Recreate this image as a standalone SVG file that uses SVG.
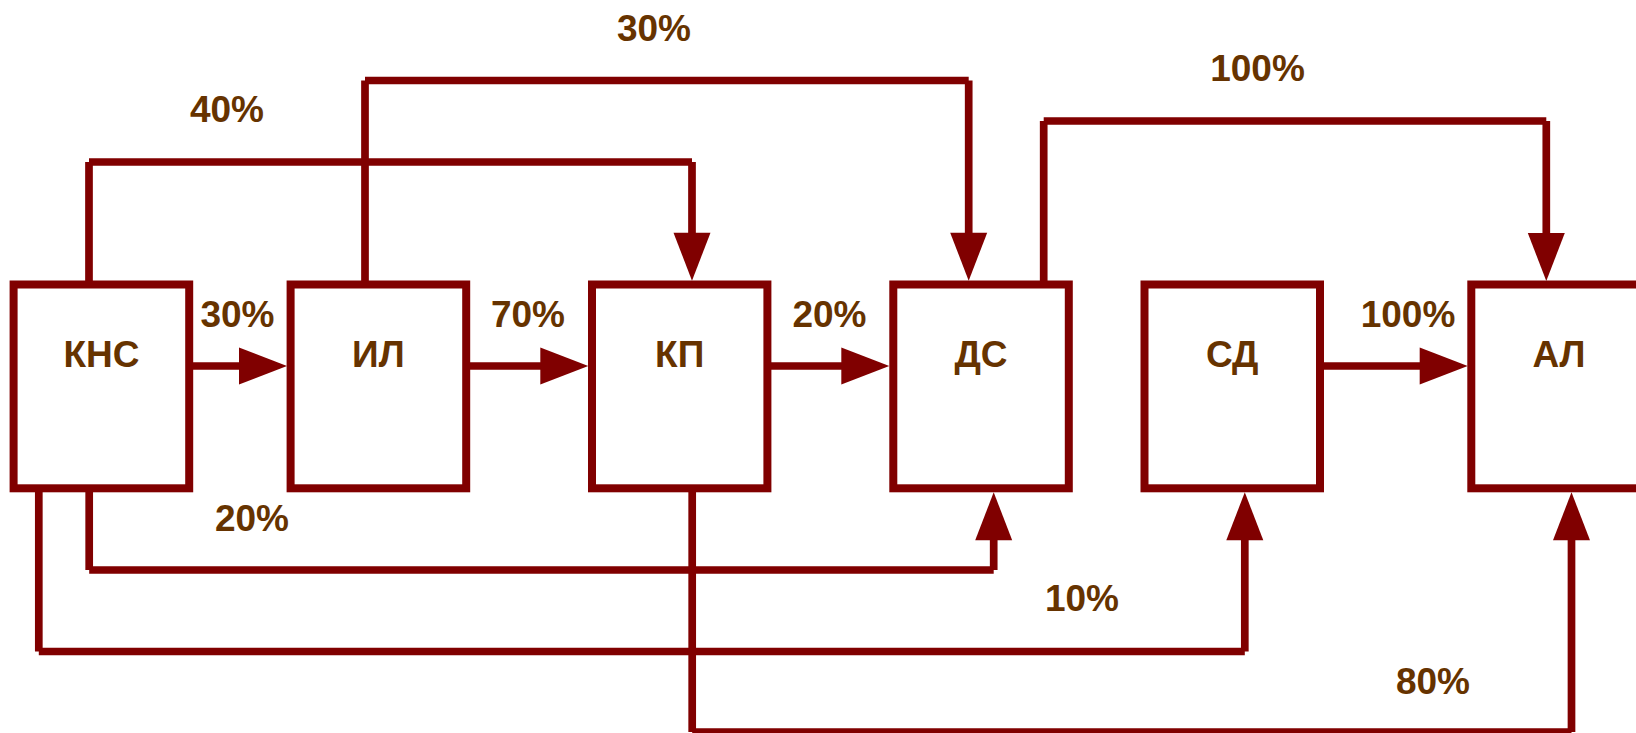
<svg xmlns="http://www.w3.org/2000/svg" width="1636" height="733" viewBox="0 0 1636 733">
  <style>
    .box { fill: #ffffff; stroke: #800000; stroke-width: 8; }
    .flow { fill: none; stroke: #800000; stroke-width: 7.7; stroke-linecap: butt; marker-end: url(#head); }
    .name, .pct { font-family: "Liberation Sans", Arial, sans-serif; font-weight: bold; font-size: 37px; fill: #663300; text-anchor: middle; }
  </style>
  <defs>
    <marker id="head" markerUnits="userSpaceOnUse" markerWidth="48" markerHeight="37" refX="4" refY="18.5" orient="auto" overflow="visible">
      <path d="M0,0 L48,18.5 L0,37 z" fill="#800000"/>
    </marker>
  </defs>
  <rect width="1636" height="733" fill="#ffffff"/>

  <!-- flows between stages -->
  <g id="connectors">
    <path class="flow" d="M189,366 H243"/>
    <path class="flow" d="M466,366 H544.3"/>
    <path class="flow" d="M767,366 H845.3"/>
    <path class="flow" d="M1320,366 H1423.7"/>
    <path class="flow" d="M89,284.5 V162 M89,162 H692 M692,162 V236.7"/>
    <path class="flow" d="M365,284.5 V80.5 M365,80.5 H968.7 M968.7,80.5 V236.7"/>
    <path class="flow" d="M1043.7,284.5 V121 M1043.7,121 H1546.3 M1546.3,121 V237"/>
    <path class="flow" d="M89.2,488.3 V570 M89.2,570 H993.7 M993.7,570 V536.3"/>
    <path class="flow" d="M38.8,488.3 V651.5 M38.8,651.5 H1244.8 M1244.8,651.5 V536.3"/>
    <path class="flow" d="M692.2,488.3 V732 M692.2,732 H1571.5 M1571.5,732 V536.3"/>
  </g>

  <!-- share labels -->
  <g id="labels">
    <text class="pct" x="237.5" y="327">30%</text>
    <text class="pct" x="528" y="327">70%</text>
    <text class="pct" x="829.5" y="327">20%</text>
    <text class="pct" x="1408" y="327">100%</text>
    <text class="pct" x="227" y="122">40%</text>
    <text class="pct" x="654" y="41">30%</text>
    <text class="pct" x="1257.5" y="81">100%</text>
    <text class="pct" x="252" y="531">20%</text>
    <text class="pct" x="1082" y="611">10%</text>
    <text class="pct" x="1433" y="694">80%</text>
  </g>

  <!-- stages -->
  <g id="node-kns">
    <rect class="box" x="13.6" y="284.5" width="175.6" height="203.8"/>
    <text class="name" x="101.4" y="367">КНС</text>
  </g>
  <g id="node-il">
    <rect class="box" x="290.6" y="284.5" width="175.6" height="203.8"/>
    <text class="name" x="378.4" y="367">ИЛ</text>
  </g>
  <g id="node-kp">
    <rect class="box" x="592" y="284.5" width="175.4" height="203.8"/>
    <text class="name" x="679.7" y="367">КП</text>
  </g>
  <g id="node-ds">
    <rect class="box" x="893.3" y="284.5" width="175.5" height="203.8"/>
    <text class="name" x="981" y="367">ДС</text>
  </g>
  <g id="node-sd">
    <rect class="box" x="1144.5" y="284.5" width="175.5" height="203.8"/>
    <text class="name" x="1232.2" y="367">СД</text>
  </g>
  <g id="node-al">
    <rect class="box" x="1471.3" y="284.5" width="175.5" height="203.8"/>
    <text class="name" x="1559" y="367">АЛ</text>
  </g>
</svg>
